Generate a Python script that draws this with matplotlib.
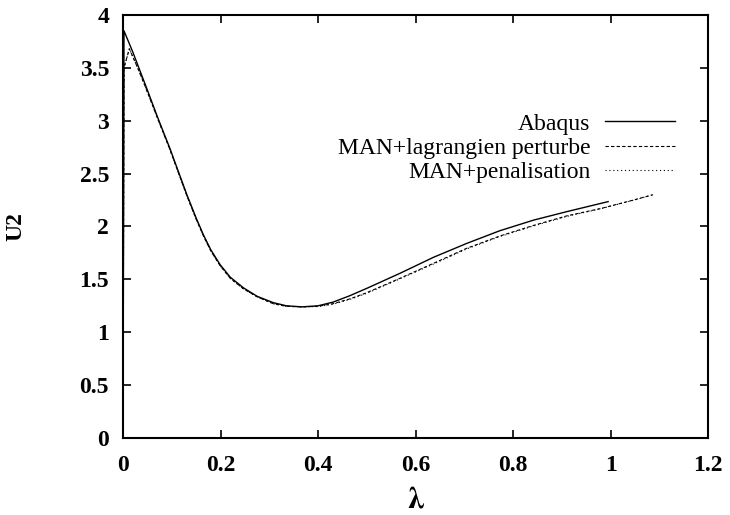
import matplotlib.pyplot as plt

plt.rcParams['font.family'] = ['Liberation Serif', 'DejaVu Serif']
plt.rcParams['mathtext.fontset'] = 'stix'

# Abaqus
lam_abaqus = [0.0, 0.002, 0.02, 0.045, 0.072, 0.096, 0.131, 0.15, 0.165, 0.18, 0.199, 0.22,
              0.247, 0.275, 0.308, 0.335, 0.367, 0.40, 0.431, 0.465, 0.50, 0.568, 0.637,
              0.705, 0.773, 0.842, 0.91, 0.995]
u2_abaqus = [0.0, 3.85, 3.65, 3.35, 3.02, 2.74, 2.30, 2.08, 1.92, 1.78, 1.64, 1.52,
             1.42, 1.34, 1.28, 1.25, 1.24, 1.25, 1.285, 1.345, 1.415, 1.557, 1.709,
             1.84, 1.96, 2.06, 2.14, 2.235]

# MAN+lagrangien perturbe
lam_lag = [0.0, 0.002, 0.013, 0.03, 0.045, 0.072, 0.096, 0.131, 0.15, 0.165, 0.18, 0.199,
           0.22, 0.247, 0.275, 0.308, 0.335, 0.367, 0.40, 0.431, 0.465, 0.50, 0.568, 0.637,
           0.705, 0.773, 0.842, 0.91, 0.98, 1.047, 1.087]
u2_lag = [0.0, 3.50, 3.68, 3.50, 3.33, 3.01, 2.73, 2.29, 2.07, 1.91, 1.77, 1.63,
          1.51, 1.41, 1.335, 1.27, 1.245, 1.24, 1.245, 1.27, 1.315, 1.374, 1.51, 1.652,
          1.794, 1.91, 2.01, 2.10, 2.17, 2.25, 2.30]

# MAN+penalisation
lam_pen = [0.0, 0.002, 0.013, 0.03, 0.045, 0.072, 0.096, 0.131, 0.15, 0.165, 0.18, 0.199,
           0.22, 0.247, 0.275, 0.308, 0.335, 0.367, 0.40, 0.431, 0.465, 0.50, 0.568, 0.637,
           0.705, 0.773, 0.842, 0.91, 0.98, 1.047, 1.087]
u2_pen = [0.0, 3.50, 3.68, 3.50, 3.33, 3.01, 2.73, 2.29, 2.07, 1.91, 1.77, 1.63,
          1.51, 1.41, 1.335, 1.27, 1.245, 1.24, 1.243, 1.265, 1.31, 1.368, 1.505, 1.645,
          1.788, 1.905, 2.005, 2.095, 2.168, 2.248, 2.30]

xticks = [0, 0.2, 0.4, 0.6, 0.8, 1, 1.2]
xticklabels = ['0', '0.2', '0.4', '0.6', '0.8', '1', '1.2']
yticks = [0, 0.5, 1, 1.5, 2, 2.5, 3, 3.5, 4]
yticklabels = ['0', '0.5', '1', '1.5', '2', '2.5', '3', '3.5', '4']

fig = plt.figure(figsize=(7.3, 5.15), dpi=100)
ax = fig.add_axes([0.1685, 0.1495, 0.8015, 0.8215])

ax.plot(lam_abaqus, u2_abaqus, color='black', lw=1.0, label='Abaqus')
ax.plot(lam_lag, u2_lag, color='black', lw=0.8, linestyle=(0, (3, 2)),
        label='MAN+lagrangien perturbe')
ax.plot(lam_pen, u2_pen, color='black', lw=0.8, linestyle=(0, (1, 2.5)),
        label='MAN+penalisation')

ax.set_xlim(0, 1.2)
ax.set_ylim(0, 4)
ax.set_xticks(xticks)
ax.set_xticklabels(xticklabels, fontsize=17, fontweight='bold')
ax.set_yticks(yticks)
ax.set_yticklabels(yticklabels, fontsize=17, fontweight='bold')
ax.tick_params(direction='in', length=6, width=1.2, top=True, right=True)
ax.tick_params(axis='x', pad=12)
ax.tick_params(axis='y', pad=10)
for s in ax.spines.values():
    s.set_linewidth(1.5)

ax.set_xlabel(r'$\mathbf{\lambda}$', fontsize=22, labelpad=7)
ax.set_ylabel('U2', fontsize=17, fontweight='bold', labelpad=38)

leg = ax.legend(loc='upper right', bbox_to_anchor=(0.944, 0.768), frameon=False,
                markerfirst=False, fontsize=17, handlelength=3.0, handletextpad=0.6,
                labelspacing=0.12, borderpad=0, borderaxespad=0)

fig.savefig('out.png', dpi=100)
